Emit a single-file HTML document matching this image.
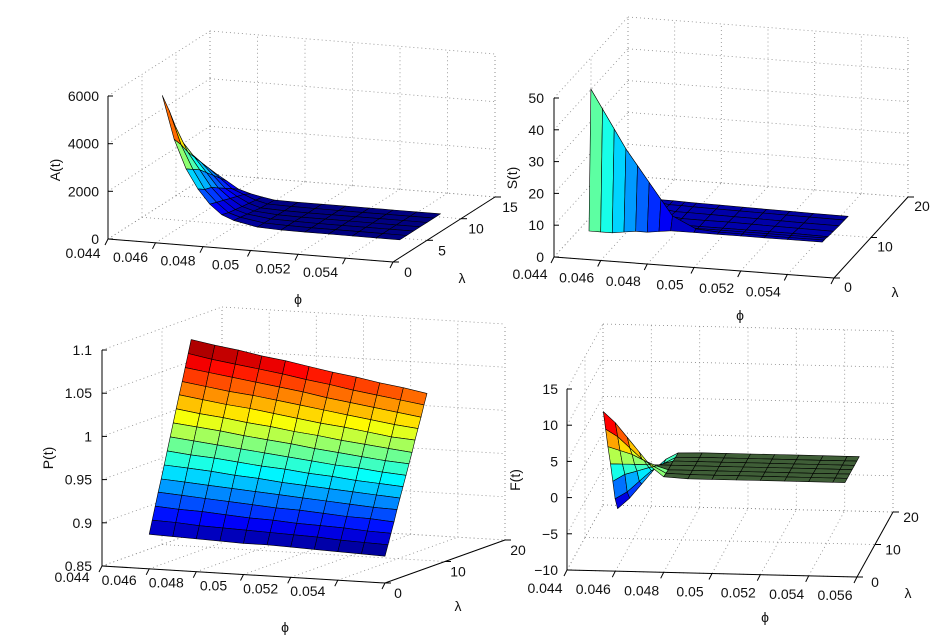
<!DOCTYPE html>
<html><head><meta charset="utf-8"><style>
html,body{margin:0;padding:0;background:#fff;}
svg{display:block;font-family:"Liberation Sans",Arial,sans-serif;}
text{font-size:14px;fill:#111;}
</style></head><body>
<svg id="fig" width="944" height="637" viewBox="0 0 944 637"></svg>
<script>
// ---------- data ----------
const phiA = [0.046,0.0465,0.047,0.0475,0.048,0.0485,0.049,0.05,0.051,0.052,0.053,0.054,0.055,0.056];
const lamA = [1,2,3,4,5,6,7];
const valA = [
 [6000,4200,3000,2200,1600,1200,1000,800,760,750,750,750,750,750],
 [5200,3800,2800,2000,1500,1100,950,790,760,750,750,750,750,750],
 [4300,3300,2600,1900,1400,1050,900,780,760,750,750,750,750,750],
 [3500,2900,2300,1700,1300,1000,850,770,750,750,750,750,750,750],
 [2900,2500,2000,1500,1200,950,800,760,750,750,750,750,750,750],
 [2400,2100,1700,1300,1100,900,780,760,750,750,750,750,750,750],
 [2000,1700,1400,1100,950,850,760,750,750,750,750,750,750,750]
];
const phiS = [0.0455,0.046,0.0465,0.047,0.0475,0.048,0.0485,0.049,0.05,0.051,0.052,0.053,0.054,0.0555];
const lamS = [0,0.5,1,1.5,3,4.5,6,7];
const valS = [
 [9,9,9,9.5,10,10,10.5,11,11,11,11,11,11,11],
 [53,47,41,35,30,25,20,15,11.5,11,11,11,11,11],
 [35,30,26,22,18,15,13,11.5,11,11,11,11,11,11],
 [13,13,12.5,12,12,11.5,11.5,11,11,11,11,11,11,10.8],
 [13,12.5,12.5,12,12,11.5,11.5,11,11,11,10.9,10.8,10.7,10.6],
 [12.5,12.5,12,12,11.5,11.5,11,11,10.9,10.8,10.7,10.6,10.5,10.4],
 [12.5,12,12,11.5,11.5,11,11,10.9,10.8,10.7,10.6,10.5,10.4,10.3],
 [12,12,11.5,11.5,11,11,10.9,10.8,10.7,10.6,10.5,10.4,10.3,10.2]
];
const phiP = [0.046,0.047,0.048,0.049,0.05,0.051,0.052,0.053,0.054,0.055,0.056];
const lamP = [0,0.5,1,1.5,2,2.5,3,3.5,4,4.5,5,5.5,6,6.5,7];
const valP = [
 [0.890,0.889,0.888,0.887,0.886,0.886,0.885,0.884,0.883,0.882,0.881],
 [0.905,0.904,0.902,0.901,0.900,0.899,0.898,0.897,0.895,0.894,0.893],
 [0.920,0.918,0.917,0.915,0.913,0.912,0.910,0.909,0.908,0.906,0.905],
 [0.935,0.933,0.931,0.929,0.927,0.925,0.924,0.922,0.920,0.919,0.917],
 [0.949,0.947,0.945,0.943,0.941,0.939,0.937,0.935,0.933,0.931,0.930],
 [0.964,0.962,0.960,0.957,0.955,0.952,0.950,0.948,0.946,0.944,0.942],
 [0.979,0.976,0.974,0.971,0.968,0.966,0.963,0.961,0.958,0.956,0.954],
 [0.994,0.991,0.988,0.985,0.982,0.979,0.976,0.973,0.971,0.968,0.966],
 [1.009,1.006,1.003,0.999,0.996,0.993,0.989,0.986,0.983,0.980,0.978],
 [1.024,1.020,1.017,1.013,1.010,1.006,1.003,0.999,0.996,0.993,0.990],
 [1.039,1.035,1.031,1.028,1.024,1.020,1.016,1.013,1.009,1.005,1.003],
 [1.053,1.049,1.045,1.042,1.038,1.034,1.030,1.026,1.022,1.018,1.015],
 [1.068,1.064,1.060,1.056,1.052,1.048,1.043,1.039,1.035,1.031,1.027],
 [1.083,1.078,1.074,1.070,1.066,1.061,1.057,1.052,1.048,1.044,1.040],
 [1.098,1.093,1.089,1.084,1.080,1.075,1.070,1.066,1.061,1.057,1.052]
];
const phiF = [0.0455,0.046,0.0465,0.047,0.0475,0.048,0.049,0.05,0.051,0.052,0.053,0.054,0.055,0.0555];
const lamF = [0,1.3,2.6,4,5.3,6.6,8];
const valF = [
 [12,10.5,8.5,6.5,4.5,3.2,3,3,3,3,3,3,3,3],
 [9,8,6.5,5,4,3.1,3,3,3,3,3,3,3,3],
 [6,5.5,5,4.2,3.5,3,3,3,3,3,3,3,3,3],
 [3,3,3,3,3,3,3,3,3,3,3,3,3,3],
 [0,1,1.5,2,2.5,3,3,3,3,3,3,3,3,3],
 [-3,-2,-0.5,1,2,2.9,3,3,3,3,3,3,3,3],
 [-5,-3.5,-1.5,0.5,2,2.9,3,3,3,3,3,3,3,3]
];
const phiTicks = [0.044,0.046,0.048,0.05,0.052,0.054,0.056];
const phiTickLabels = ["0.044","0.046","0.048","0.05","0.052","0.054","0.056"];
const zTicksA = [0,2000,4000,6000];
const zTicksS = [0,10,20,30,40,50];
const zTicksP = [0.85,0.9,0.95,1,1.05,1.1];
const zTickLabelsP = ["0.85","0.9","0.95","1","1.05","1.1"];
const zTicksF = [-10,-5,0,5,10,15];
const zTickLabelsF = ["\u221210","\u22125","0","5","10","15"];
const lamTicksA = [0,5,10,15];
const lamTicks20 = [0,10,20];

// ---------- renderer ----------
const NS="http://www.w3.org/2000/svg";
const svg=document.getElementById('fig');
function mk(tag,attrs,parent){const e=document.createElementNS(NS,tag);for(const k in attrs)e.setAttribute(k,attrs[k]);(parent||svg).appendChild(e);return e;}
function jet(t){t=Math.max(0,Math.min(1,t));const c=v=>Math.round(255*Math.max(0,Math.min(1,v)));
 return `rgb(${c(1.5-Math.abs(4*t-3))},${c(1.5-Math.abs(4*t-2))},${c(1.5-Math.abs(4*t-1))})`;}

function drawPlot(cfg){
 const g=mk('g',{});
 
 
 const P=(ph,la,z)=>{const fx=(ph-cfg.phiR[0])/(cfg.phiR[1]-cfg.phiR[0]);const fy=(la-cfg.lamR[0])/(cfg.lamR[1]-cfg.lamR[0]);const fz=(z-cfg.zR[0])/(cfg.zR[1]-cfg.zR[0]);
  return [cfg.O[0]+fx*cfg.ex[0]+fy*cfg.ey[0]+fz*cfg.ez[0], cfg.O[1]+fx*cfg.ex[1]+fy*cfg.ey[1]+fz*cfg.ez[1]];};
 const line=(a,b,attrs,name)=>{const l=mk('line',Object.assign({x1:a[0].toFixed(1),y1:a[1].toFixed(1),x2:b[0].toFixed(1),y2:b[1].toFixed(1)},attrs),g);
  
  return l;};
 const grid={stroke:'#888','stroke-width':0.8,'stroke-dasharray':'1 3'};
 const [p0,p1]=cfg.phiR,[l0,l1]=cfg.lamR,[z0,z1]=cfg.zR;
 cfg.phiT.forEach(t=>{if(t>=p0-1e-9&&t<=p1+1e-9)line(P(t,l0,z0),P(t,l1,z0),grid,'floor-grid-line');});
 cfg.lamT.forEach(t=>line(P(p0,t,z0),P(p1,t,z0),grid,'floor-grid-line'));
 cfg.phiT.forEach(t=>{if(t>=p0-1e-9&&t<=p1+1e-9)line(P(t,l1,z0),P(t,l1,z1),grid,'back-wall-grid-line');});
 cfg.zT.forEach(t=>line(P(p0,l1,t),P(p1,l1,t),grid,'back-wall-grid-line'));
 line(P(p1,l1,z0),P(p1,l1,z1),grid,'back-wall-grid-line');
 cfg.lamT.forEach(t=>line(P(p0,t,z0),P(p0,t,z1),grid,'left-wall-grid-line'));
 cfg.zT.forEach(t=>line(P(p0,l0,t),P(p0,l1,t),grid,'left-wall-grid-line'));
 const quads=[];
 const ph=cfg.phi,la=cfg.lam,v=cfg.val;
 for(let j=0;j<la.length-1;j++)for(let i=0;i<ph.length-1;i++){
  const zs=[v[j][i],v[j][i+1],v[j+1][i+1],v[j+1][i]];
  const pts=[P(ph[i],la[j],zs[0]),P(ph[i+1],la[j],zs[1]),P(ph[i+1],la[j+1],zs[2]),P(ph[i],la[j+1],zs[3])];
  const cph=(ph[i]+ph[i+1])/2,cla=(la[j]+la[j+1])/2;
  const depth=P(cph,cla,z0)[1];
  const zm=(zs[0]+zs[1]+zs[2]+zs[3])/4;
  quads.push({pts,depth,zm});
 }
 quads.sort((a,b)=>a.depth-b.depth);
 const sg=mk('g',{},g);
 
 
 quads.forEach(q=>{
  const col=cfg.color?cfg.color(q.zm):jet((q.zm-cfg.clim[0])/(cfg.clim[1]-cfg.clim[0]));
  const e=mk('polygon',{points:q.pts.map(p=>p[0].toFixed(1)+','+p[1].toFixed(1)).join(' '),fill:col,stroke:'#000','stroke-width':0.6,'stroke-linejoin':'round'},sg);
  
  
 });
 const ax={stroke:'#000','stroke-width':1};
 line(P(p0,l0,z0),P(p0,l0,z1),ax,'z-axis');
 line(P(p0,l0,z0),P(p1,l0,z0),ax,'phi-axis');
 line(P(p1,l0,z0),P(p1,l1,z0),ax,'lambda-axis');
 cfg.zT.forEach((t,k)=>{const p=P(p0,l0,t);line(p,[p[0]+5,p[1]],ax,'z-tick');
  const tx=mk('text',{x:cfg.zLabX,y:(p[1]+5).toFixed(1),'text-anchor':'end'},g);tx.textContent=cfg.zL?cfg.zL[k]:String(t);
  
  });
 cfg.phiT.forEach((t,k)=>{if(t<p0-1e-9||t>p1+1e-9)return;const p=P(t,l0,z0);line(p,[p[0]-3,p[1]+6],ax,'phi-tick');
  if(cfg.hideLastPhi&&k===cfg.phiT.length-1)return;
  const tx=mk('text',{x:(p[0]+cfg.phiOff[0]).toFixed(1),y:(p[1]+cfg.phiOff[1]+5).toFixed(1),'text-anchor':'middle'},g);tx.textContent=phiTickLabels[k];
  
  });
 cfg.lamT.forEach(t=>{const p=P(p1,t,z0);line(p,[p[0]+6,p[1]],ax,'lambda-tick');
  const tx=mk('text',{x:(p[0]+cfg.lamOff[0]).toFixed(1),y:(p[1]+cfg.lamOff[1]+5).toFixed(1),'text-anchor':'middle'},g);tx.textContent=String(t);
  
  });
 const zt=mk('text',{x:cfg.zTitle[0],y:cfg.zTitle[1],'text-anchor':'middle',transform:`rotate(-90 ${cfg.zTitle[0]} ${cfg.zTitle[1]})`},g);zt.textContent=cfg.zName;
 
 
 const pt=mk('text',{x:cfg.phiTitle[0],y:cfg.phiTitle[1],'text-anchor':'middle'},g);pt.textContent='\u03d5';
 
 
 const lt=mk('text',{x:cfg.lamTitle[0],y:cfg.lamTitle[1],'text-anchor':'middle'},g);lt.textContent='\u03bb';
 
 
}

drawPlot({name:'plot-a',O:[108,239],ex:[285,23],ey:[102,-65],ez:[0,-143],phiR:[0.044,0.056],lamR:[0,15],zR:[0,6000],
 phiT:phiTicks,lamT:lamTicksA,zT:zTicksA,phi:phiA,lam:lamA,val:valA,clim:[750,6000],
 zLabX:99,phiOff:[-25,14],lamOff:[15,10],hideLastPhi:true,zName:'A(t)',zTitle:[60,170],phiTitle:[298,304],lamTitle:[462,283]});
drawPlot({name:'plot-s',O:[554,257],ex:[280,21],ey:[74,-81],ez:[0,-159],phiR:[0.044,0.056],lamR:[0,20],zR:[0,50],
 phiT:phiTicks,lamT:lamTicks20,zT:zTicksS,phi:phiS,lam:lamS,val:valS,clim:[9,53],
 zLabX:544,phiOff:[-24,17],lamOff:[14,9],hideLastPhi:true,zName:'S(t)',zTitle:[517,178],phiTitle:[740,320],lamTitle:[895,297]});
drawPlot({name:'plot-p',O:[102,566],ex:[283,17],ey:[120,-43],ez:[0,-216],phiR:[0.044,0.056],lamR:[0,20],zR:[0.85,1.1],
 phiT:phiTicks,lamT:lamTicks20,zT:zTicksP,zL:zTickLabelsP,phi:phiP,lam:lamP,val:valP,clim:[0.881,1.098],
 zLabX:92,phiOff:[-30,11],lamOff:[13,10],hideLastPhi:true,zName:'P(t)',zTitle:[53,458],phiTitle:[285,632],lamTitle:[458,611]});
drawPlot({name:'plot-f',O:[567,570],ex:[290,7],ey:[36,-65],ez:[0,-181],phiR:[0.044,0.056],lamR:[0,20],zR:[-10,15],
 phiT:phiTicks,lamT:lamTicks20,zT:zTicksF,zL:zTickLabelsF,phi:phiF,lam:lamF,val:valF,clim:[-5,12],
 color:z=>Math.abs(z-3)<0.35?'#3f5e37':jet((z+5)/17),
 zLabX:558,phiOff:[-22,18],lamOff:[18,5],hideLastPhi:false,zName:'F(t)',zTitle:[520,480],phiTitle:[765,622],lamTitle:[908,598]});
</script>
</body></html>
